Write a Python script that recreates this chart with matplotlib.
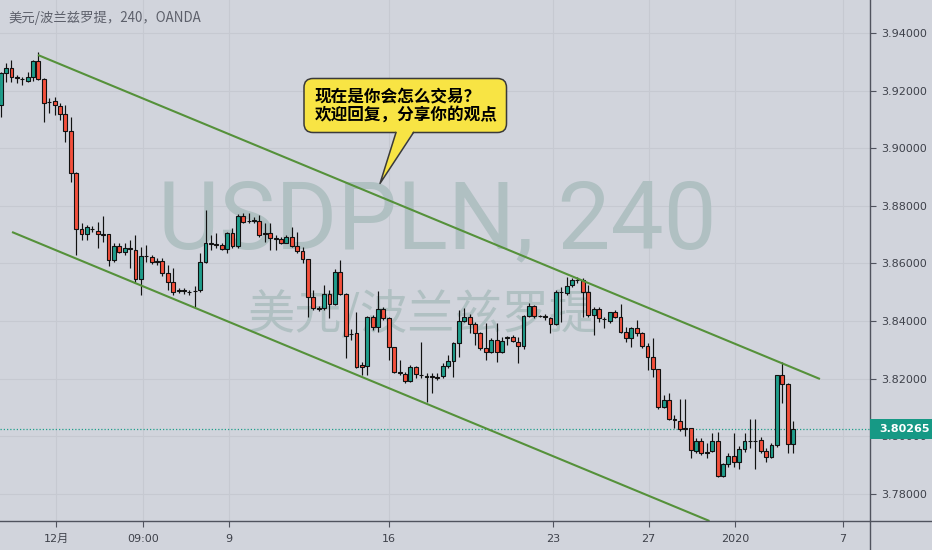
import matplotlib
matplotlib.use("Agg")
import matplotlib.pyplot as plt
import matplotlib.transforms as mtrans
from matplotlib.patches import FancyBboxPatch, Polygon, Rectangle
from matplotlib.lines import Line2D
import numpy as np

# ---------------- data (USD/PLN, 4h candles) ----------------
opens = [3.9150, 3.9260, 3.9280, 3.9247, 3.9239, 3.9234, 3.9248, 3.9303, 3.9239, 3.9162,
         3.9165, 3.9148, 3.9119, 3.9061, 3.8913, 3.8718, 3.8701, 3.8721, 3.8714, 3.8702,
         3.8701, 3.8612, 3.8660, 3.8639, 3.8653, 3.8647, 3.8546, 3.8626, 3.8621, 3.8607,
         3.8608, 3.8568, 3.8534, 3.8504, 3.8506, 3.8502, 3.8503, 3.8508, 3.8606, 3.8669,
         3.8667, 3.8664, 3.8650, 3.8704, 3.8660, 3.8766, 3.8748, 3.8747, 3.8748, 3.8704,
         3.8704, 3.8688, 3.8685, 3.8672, 3.8693, 3.8661, 3.8643, 3.8614, 3.8482, 3.8445,
         3.8446, 3.8493, 3.8458, 3.8569, 3.8493, 3.8354, 3.8357, 3.8247, 3.8244, 3.8415,
         3.8378, 3.8442, 3.8409, 3.8309, 3.8222, 3.8215, 3.8192, 3.8241, 3.8213, 3.8206,
         3.8208, 3.8204, 3.8209, 3.8244, 3.8261, 3.8322, 3.8400, 3.8413, 3.8389, 3.8357,
         3.8305, 3.8291, 3.8334, 3.8293, 3.8341, 3.8345, 3.8328, 3.8313, 3.8417, 3.8452,
         3.8418, 3.8416, 3.8409, 3.8389, 3.8499, 3.8496, 3.8525, 3.8541, 3.8542, 3.8500,
         3.8421, 3.8442, 3.8408, 3.8400, 3.8430, 3.8415, 3.8361, 3.8340, 3.8375, 3.8357,
         3.8313, 3.8274, 3.8232, 3.8100, 3.8126, 3.8060, 3.8053, 3.8028, 3.8027, 3.7949,
         3.7983, 3.7945, 3.7950, 3.7983, 3.7863, 3.7903, 3.7931, 3.7911, 3.7954, 3.7983,
         3.7985, 3.7987, 3.7950, 3.7929, 3.7969, 3.8212, 3.8180, 3.7973]
highs = [3.9263, 3.9296, 3.9306, 3.9254, 3.9248, 3.9266, 3.9305, 3.9334, 3.9244, 3.9174,
         3.9179, 3.9156, 3.9150, 3.9109, 3.8918, 3.8740, 3.8733, 3.8730, 3.8745, 3.8766,
         3.8702, 3.8670, 3.8670, 3.8670, 3.8681, 3.8699, 3.8658, 3.8664, 3.8629, 3.8618,
         3.8618, 3.8594, 3.8585, 3.8515, 3.8516, 3.8508, 3.8521, 3.8635, 3.8785, 3.8699,
         3.8705, 3.8670, 3.8710, 3.8722, 3.8772, 3.8774, 3.8776, 3.8762, 3.8768, 3.8739,
         3.8739, 3.8699, 3.8693, 3.8699, 3.8727, 3.8708, 3.8658, 3.8615, 3.8508, 3.8452,
         3.8525, 3.8508, 3.8581, 3.8612, 3.8496, 3.8371, 3.8432, 3.8259, 3.8416, 3.8421,
         3.8504, 3.8450, 3.8415, 3.8311, 3.8265, 3.8224, 3.8247, 3.8245, 3.8328, 3.8218,
         3.8218, 3.8218, 3.8253, 3.8282, 3.8328, 3.8438, 3.8444, 3.8426, 3.8398, 3.8363,
         3.8392, 3.8340, 3.8392, 3.8345, 3.8348, 3.8351, 3.8345, 3.8421, 3.8461, 3.8456,
         3.8421, 3.8426, 3.8415, 3.8508, 3.8519, 3.8554, 3.8550, 3.8554, 3.8550, 3.8525,
         3.8450, 3.8450, 3.8415, 3.8432, 3.8438, 3.8458, 3.8380, 3.8380, 3.8404, 3.8363,
         3.8323, 3.8340, 3.8233, 3.8143, 3.8151, 3.8074, 3.8128, 3.8128, 3.8028, 3.7993,
         3.7993, 3.7975, 3.8010, 3.8016, 3.7906, 3.7941, 3.8010, 3.7966, 3.8010, 3.8059,
         3.8059, 3.7998, 3.7958, 3.7975, 3.8213, 3.8259, 3.8184, 3.8053]
lows = [3.9110, 3.9231, 3.9231, 3.9225, 3.9219, 3.9231, 3.9234, 3.9237, 3.9092, 3.9122,
        3.9115, 3.9098, 3.9020, 3.8884, 3.8629, 3.8681, 3.8681, 3.8709, 3.8652, 3.8675,
        3.8592, 3.8604, 3.8635, 3.8629, 3.8583, 3.8531, 3.8490, 3.8606, 3.8597, 3.8594,
        3.8556, 3.8508, 3.8490, 3.8497, 3.8494, 3.8490, 3.8450, 3.8502, 3.8600, 3.8646,
        3.8652, 3.8646, 3.8635, 3.8652, 3.8652, 3.8739, 3.8741, 3.8739, 3.8693, 3.8675,
        3.8646, 3.8646, 3.8666, 3.8670, 3.8658, 3.8635, 3.8600, 3.8415, 3.8438, 3.8435,
        3.8438, 3.8410, 3.8456, 3.8490, 3.8270, 3.8334, 3.8236, 3.8212, 3.8212, 3.8369,
        3.8363, 3.8403, 3.8265, 3.8218, 3.8212, 3.8184, 3.8189, 3.8202, 3.8201, 3.8120,
        3.8149, 3.8195, 3.8201, 3.8237, 3.8207, 3.8276, 3.8398, 3.8357, 3.8317, 3.8299,
        3.8265, 3.8288, 3.8259, 3.8288, 3.8317, 3.8326, 3.8253, 3.8303, 3.8415, 3.8412,
        3.8415, 3.8403, 3.8357, 3.8386, 3.8398, 3.8490, 3.8519, 3.8531, 3.8415, 3.8415,
        3.8351, 3.8398, 3.8375, 3.8392, 3.8409, 3.8357, 3.8326, 3.8311, 3.8348, 3.8305,
        3.8230, 3.8207, 3.8093, 3.8097, 3.8056, 3.8027, 3.8018, 3.8000, 3.7923, 3.7941,
        3.7935, 3.7923, 3.7946, 3.7859, 3.7857, 3.7894, 3.7894, 3.7885, 3.7946, 3.7958,
        3.7885, 3.7943, 3.7911, 3.7923, 3.7964, 3.8114, 3.7943, 3.7943]
closes = [3.9260, 3.9280, 3.9248, 3.9244, 3.9241, 3.9248, 3.9303, 3.9239, 3.9156, 3.9160,
          3.9150, 3.9119, 3.9061, 3.8913, 3.8718, 3.8701, 3.8725, 3.8719, 3.8701, 3.8700,
          3.8612, 3.8660, 3.8641, 3.8652, 3.8651, 3.8546, 3.8627, 3.8624, 3.8604, 3.8605,
          3.8568, 3.8534, 3.8502, 3.8506, 3.8504, 3.8500, 3.8505, 3.8606, 3.8670, 3.8671,
          3.8665, 3.8650, 3.8704, 3.8660, 3.8766, 3.8745, 3.8746, 3.8749, 3.8699, 3.8702,
          3.8687, 3.8686, 3.8670, 3.8693, 3.8661, 3.8643, 3.8614, 3.8482, 3.8444, 3.8443,
          3.8493, 3.8458, 3.8569, 3.8493, 3.8349, 3.8356, 3.8241, 3.8241, 3.8415, 3.8378,
          3.8442, 3.8409, 3.8309, 3.8224, 3.8220, 3.8192, 3.8241, 3.8216, 3.8211, 3.8208,
          3.8207, 3.8202, 3.8244, 3.8261, 3.8322, 3.8400, 3.8413, 3.8389, 3.8357, 3.8305,
          3.8291, 3.8334, 3.8291, 3.8330, 3.8343, 3.8330, 3.8313, 3.8417, 3.8452, 3.8417,
          3.8416, 3.8414, 3.8389, 3.8502, 3.8501, 3.8523, 3.8542, 3.8543, 3.8500, 3.8421,
          3.8442, 3.8409, 3.8406, 3.8430, 3.8415, 3.8361, 3.8340, 3.8375, 3.8357, 3.8313,
          3.8274, 3.8232, 3.8100, 3.8126, 3.8060, 3.8058, 3.8025, 3.8026, 3.7952, 3.7983,
          3.7943, 3.7943, 3.7983, 3.7863, 3.7903, 3.7931, 3.7911, 3.7954, 3.7984, 3.7985,
          3.7983, 3.7950, 3.7929, 3.7969, 3.8212, 3.8180, 3.7973, 3.80265]

price_ticks = [3.78, 3.80, 3.82, 3.84, 3.86, 3.88, 3.90, 3.92, 3.94]
time_tick_pos = [10.35, 26.34, 42.32, 72.1, 102.43, 120.19, 136.29, 156.25]
time_tick_labels = ["12月", "09:00", "9", "16", "23", "27", "2020", "7"]
last_price = 3.80265
upper_channel_x = [6.92, 152.0]
upper_channel_y = [3.93236, 3.81986]
lower_channel_x = [2.10, 131.5]
lower_channel_y = [3.87090, 3.77056]

title_text = "美元/波兰兹罗提，240，OANDA"
watermark_big = "USDPLN, 240"
watermark_small = "美元/波兰兹罗提"
callout_line1 = "现在是你会怎么交易？"
callout_line2 = "欢迎回复，分享你的观点"

# ---------------- styling ----------------
W, H = 932, 550
BG = "#d1d4dc"
UP = "#1f9e8c"
DOWN = "#f4503c"
EDGE = "#111111"
GRID = "#c6c9d1"
AXIS = "#50535e"
TXT = "#3e414a"
WM = "#b0c0c2"
CHANNEL = "#55913a"

plt.rcParams['font.family'] = ['DejaVu Sans', 'Noto Sans CJK SC']
CJK = ['Noto Sans CJK SC', 'DejaVu Sans']

fig = plt.figure(figsize=(W / 100, H / 100), dpi=100, facecolor=BG)
AXR, AXB = 870, 521
ax = fig.add_axes([0, (H - AXB) / H, AXR / W, AXB / H])
ax.set_facecolor(BG)
pix = mtrans.Affine2D().scale(1, -1).translate(0, H)  # top-left pixel coords

o = np.array(opens); c = np.array(closes); hi = np.array(highs); lo = np.array(lows)
x = np.arange(len(o))
up = c >= o
body_bottom = np.minimum(o, c)
body_height = np.maximum(np.abs(c - o), 0.00012)

ax.vlines(x, lo, hi, color=EDGE, lw=0.85, zorder=3)
ax.bar(x[up], body_height[up], bottom=body_bottom[up], width=0.72,
       color=UP, edgecolor=EDGE, linewidth=0.8, zorder=4)
ax.bar(x[~up], body_height[~up], bottom=body_bottom[~up], width=0.72,
       color=DOWN, edgecolor=EDGE, linewidth=0.8, zorder=4)

# channel lines
ax.plot(upper_channel_x, upper_channel_y, color=CHANNEL, lw=1.5, zorder=5, solid_capstyle='butt')
ax.plot(lower_channel_x, lower_channel_y, color=CHANNEL, lw=1.5, zorder=5, solid_capstyle='butt')

# last price dotted line
ax.axhline(last_price, color=UP, lw=0.9, ls=(0, (1, 1.6)), zorder=2)

ax.set_xlim(-0.13, 161.28)
ax.set_ylim(3.77056, 3.95146)
for s in ax.spines.values():
    s.set_visible(False)
ax.yaxis.tick_right()
ax.set_yticks(price_ticks)
ax.set_yticklabels([f"{v:.5f}" for v in price_ticks])
ax.set_xticks(time_tick_pos)
ax.set_xticklabels(time_tick_labels)
ax.tick_params(axis='y', length=4, width=0.8, color=AXIS, pad=4, labelsize=8, labelcolor=TXT)
ax.tick_params(axis='x', length=4, width=0.8, color=AXIS, pad=5, labelsize=8, labelcolor=TXT)
ax.grid(True, color=GRID, lw=0.8)
ax.set_axisbelow(True)

# watermarks and title
ax.text(437, 248, watermark_big, transform=pix, ha='center', va='baseline',
        fontsize=68, family=['Roboto', 'DejaVu Sans'], color=WM, zorder=1, clip_on=False)
ax.text(422, 316, watermark_small, transform=pix, ha='center', va='center',
        fontsize=34, family=CJK, color=WM, zorder=1, clip_on=False)
ax.text(8, 18, title_text, transform=pix, ha='left', va='center',
        fontsize=9.6, family=CJK, color='#5d606b', zorder=6, clip_on=False)

# callout
YEL = "#f8e444"
BORDER = "#3a3a3a"
box = FancyBboxPatch((304, 78.5), 202.5, 54, boxstyle='round,pad=0,rounding_size=9',
                     transform=pix, fc=YEL, ec=BORDER, lw=1.1, zorder=20, clip_on=False)
ax.add_patch(box)
tail = Polygon([(396, 131), (413.5, 131), (380, 183.5)], closed=True, transform=pix,
               fc=YEL, ec='none', zorder=21, clip_on=False)
ax.add_patch(tail)
ax.add_line(Line2D([396, 380, 413.5], [132.5, 183.5, 132.5], transform=pix,
                   color=BORDER, lw=1.1, zorder=22, clip_on=False))
ax.text(315, 96, callout_line1, transform=pix, ha='left', va='center', fontsize=12,
        fontweight='bold', family=CJK, color='black', zorder=23, clip_on=False)
ax.text(315, 115, callout_line2, transform=pix, ha='left', va='center', fontsize=12,
        fontweight='bold', family=CJK, color='black', zorder=23, clip_on=False)

# frame lines of the price and time scales
fig.add_artist(Line2D([0, W], [AXB, AXB], transform=pix, color=AXIS, lw=1.0, zorder=4))
fig.add_artist(Line2D([AXR, AXR], [0, H], transform=pix, color=AXIS, lw=1.0, zorder=4))

# last price label
fig.add_artist(Rectangle((AXR, 419), W - AXR, 20, transform=pix, fc="#169985", ec='none', zorder=5))
fig.text(879, 429, f"{last_price:.5f}", transform=pix, ha='left', va='center',
         fontsize=8, fontweight='bold', color='white', zorder=6)

fig.savefig("out.png", dpi=100, facecolor=BG)
